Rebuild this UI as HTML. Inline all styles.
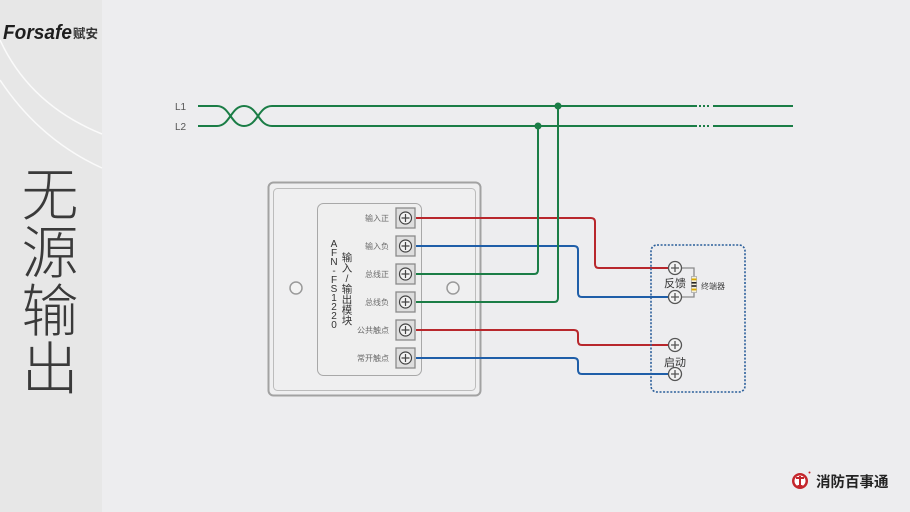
<!DOCTYPE html>
<html><head><meta charset="utf-8"><style>
html,body{margin:0;padding:0;background:#ededef;}
svg{display:block;}
text{font-family:"Liberation Sans","Noto Sans CJK SC",sans-serif;}
</style></head><body>
<svg width="910" height="512" viewBox="0 0 910 512" xmlns="http://www.w3.org/2000/svg">
<rect x="0" y="0" width="910" height="512" fill="#ededef"/>
<rect x="0" y="0" width="102" height="512" fill="#e7e7e7"/>
<path d="M0 40 Q30 105 102 134" fill="none" stroke="#fafafa" stroke-width="1.5"/>
<path d="M0 80 Q40 140 102 168" fill="none" stroke="#fafafa" stroke-width="1.5"/>
<text x="3" y="39" font-size="20" font-weight="bold" font-style="italic" fill="#1e1e1e" textLength="69" lengthAdjust="spacingAndGlyphs">Forsafe</text>
<text x="73" y="38" font-size="12.5" font-weight="bold" fill="#333" font-family="'Noto Sans CJK SC',sans-serif">赋安</text>
<g font-size="57" fill="#3a3a3a" text-anchor="middle" font-weight="300" style="font-family:'Liberation Sans','Noto Sans CJK SC',sans-serif">
<text x="50" y="215">无</text><text x="50" y="273">源</text><text x="50" y="331">输</text><text x="50" y="389">出</text>
</g>

<!-- L1 L2 -->
<text x="175" y="110" font-size="10" fill="#555">L1</text>
<text x="175" y="130" font-size="10" fill="#555">L2</text>
<g fill="none" stroke="#1b7d46" stroke-width="2">
<path d="M198 106 H217 C230 106 231 126 244 126 C258 126 258 106 272 106 H697"/>
<path d="M198 126 H217 C230 126 231 106 244 106 C258 106 258 126 272 126 H697"/>
<path d="M713 106 H793"/><path d="M713 126 H793"/>
<path d="M699 106 h2 M703 106 h2 M707 106 h2 M699 126 h2 M703 126 h2 M707 126 h2"/>
</g>

<!-- module -->
<rect x="268.5" y="182.5" width="212" height="213" rx="5" fill="#efeff0" stroke="#a2a2a2" stroke-width="2"/>
<rect x="273.5" y="188.5" width="202" height="202" rx="4" fill="none" stroke="#bcbcbc" stroke-width="1"/>
<rect x="317.5" y="203.5" width="104" height="172" rx="6" fill="#efefef" stroke="#a8a8a8" stroke-width="1"/>
<circle cx="296" cy="288" r="6" fill="#f3f3f3" stroke="#9a9a9a" stroke-width="1.5"/>
<circle cx="453" cy="288" r="6" fill="#f3f3f3" stroke="#9a9a9a" stroke-width="1.5"/>
<g font-size="10" fill="#333" text-anchor="middle">
<text x="334" y="247">A</text><text x="334" y="256">F</text><text x="334" y="265">N</text><text x="334" y="274">-</text><text x="334" y="283">F</text><text x="334" y="292">S</text><text x="334" y="301">1</text><text x="334" y="310">2</text><text x="334" y="319">2</text><text x="334" y="328">0</text>
</g>
<g font-size="10.5" fill="#333" text-anchor="middle">
<text x="347" y="261">输</text><text x="347" y="271.5">入</text><text x="347" y="282">/</text><text x="347" y="292.5">输</text><text x="347" y="303">出</text><text x="347" y="313.5">模</text><text x="347" y="324">块</text>
</g>
<g font-size="8" fill="#6a6a6a" text-anchor="end">
<text x="389" y="221">输入正</text><text x="389" y="249">输入负</text><text x="389" y="277">总线正</text><text x="389" y="305">总线负</text><text x="389" y="333">公共触点</text><text x="389" y="361">常开触点</text>
</g>
<g>
<g transform="translate(405.5,218)"><rect x="-9.5" y="-10" width="19" height="20" fill="#dedede" stroke="#8a8a8a" stroke-width="1.3"/><circle r="6" fill="#f2f2f2" stroke="#444" stroke-width="1.2"/><path d="M-4 0H4M0 -4V4" stroke="#444" stroke-width="1.2"/></g>
<g transform="translate(405.5,246)"><rect x="-9.5" y="-10" width="19" height="20" fill="#dedede" stroke="#8a8a8a" stroke-width="1.3"/><circle r="6" fill="#f2f2f2" stroke="#444" stroke-width="1.2"/><path d="M-4 0H4M0 -4V4" stroke="#444" stroke-width="1.2"/></g>
<g transform="translate(405.5,274)"><rect x="-9.5" y="-10" width="19" height="20" fill="#dedede" stroke="#8a8a8a" stroke-width="1.3"/><circle r="6" fill="#f2f2f2" stroke="#444" stroke-width="1.2"/><path d="M-4 0H4M0 -4V4" stroke="#444" stroke-width="1.2"/></g>
<g transform="translate(405.5,302)"><rect x="-9.5" y="-10" width="19" height="20" fill="#dedede" stroke="#8a8a8a" stroke-width="1.3"/><circle r="6" fill="#f2f2f2" stroke="#444" stroke-width="1.2"/><path d="M-4 0H4M0 -4V4" stroke="#444" stroke-width="1.2"/></g>
<g transform="translate(405.5,330)"><rect x="-9.5" y="-10" width="19" height="20" fill="#dedede" stroke="#8a8a8a" stroke-width="1.3"/><circle r="6" fill="#f2f2f2" stroke="#444" stroke-width="1.2"/><path d="M-4 0H4M0 -4V4" stroke="#444" stroke-width="1.2"/></g>
<g transform="translate(405.5,358)"><rect x="-9.5" y="-10" width="19" height="20" fill="#dedede" stroke="#8a8a8a" stroke-width="1.3"/><circle r="6" fill="#f2f2f2" stroke="#444" stroke-width="1.2"/><path d="M-4 0H4M0 -4V4" stroke="#444" stroke-width="1.2"/></g>
</g>

<!-- wires -->
<g fill="none" stroke-width="2">
<path d="M416 218 H591 Q595 218 595 222 V264 Q595 268 599 268 H668" stroke="#b8272c"/>
<path d="M416 246 H574 Q578 246 578 250 V293 Q578 297 582 297 H668" stroke="#1f5ea8"/>
<path d="M416 274 H534 Q538 274 538 270 V126" stroke="#1b7d46"/>
<path d="M416 302 H554 Q558 302 558 298 V106" stroke="#1b7d46"/>
<path d="M416 330 H574 Q578 330 578 334 V341 Q578 345 582 345 H668" stroke="#b8272c"/>
<path d="M416 358 H574 Q578 358 578 362 V370 Q578 374 582 374 H668" stroke="#1f5ea8"/>
</g>
<circle cx="558" cy="106" r="3.5" fill="#1b7d46"/>
<circle cx="538" cy="126" r="3.5" fill="#1b7d46"/>

<!-- dashed box -->
<rect x="651" y="245" width="94" height="147" rx="6" fill="none" stroke="#2a5e9a" stroke-width="1.6" stroke-dasharray="2 1.6"/>
<path d="M682 268 H694 V277 M694 292 V297 H682" fill="none" stroke="#8a8a8a" stroke-width="1.3"/>
<rect x="691.5" y="276.5" width="5" height="16" fill="#f4efd6" stroke="#aaa" stroke-width="0.8"/>
<rect x="691.5" y="278.5" width="5" height="1.8" fill="#d9a800"/>
<rect x="691.5" y="282" width="5" height="1.6" fill="#222"/>
<rect x="691.5" y="285.2" width="5" height="1.6" fill="#222"/>
<rect x="691.5" y="288.6" width="5" height="1.8" fill="#d9a800"/>
<g>
<g transform="translate(675,268)"><circle r="6.5" fill="#f2f2f2" stroke="#555" stroke-width="1.3"/><path d="M-4 0H4M0 -4V4" stroke="#555" stroke-width="1.3"/></g>
<g transform="translate(675,297)"><circle r="6.5" fill="#f2f2f2" stroke="#555" stroke-width="1.3"/><path d="M-4 0H4M0 -4V4" stroke="#555" stroke-width="1.3"/></g>
<g transform="translate(675,345)"><circle r="6.5" fill="#f2f2f2" stroke="#555" stroke-width="1.3"/><path d="M-4 0H4M0 -4V4" stroke="#555" stroke-width="1.3"/></g>
<g transform="translate(675,374)"><circle r="6.5" fill="#f2f2f2" stroke="#555" stroke-width="1.3"/><path d="M-4 0H4M0 -4V4" stroke="#555" stroke-width="1.3"/></g>
</g>
<text x="664" y="287" font-size="11" fill="#333">反馈</text>
<text x="664" y="366" font-size="11" fill="#333">启动</text>
<text x="701" y="289" font-size="8" fill="#444">终端器</text>

<!-- bottom logo -->
<circle cx="800" cy="481" r="8" fill="#c4262c"/>
<circle cx="800" cy="481" r="5.5" fill="#fff"/>
<path d="M796 478 H804 M800 476 V486 M797.5 486 H802.5" stroke="#c4262c" stroke-width="2" fill="none"/>
<circle cx="809.5" cy="472.5" r="1" fill="#c4262c"/>
<text x="816" y="487" font-size="14.5" font-weight="bold" fill="#222" font-family="'Noto Sans CJK SC',sans-serif">消防百事通</text>
</svg>
</body></html>
